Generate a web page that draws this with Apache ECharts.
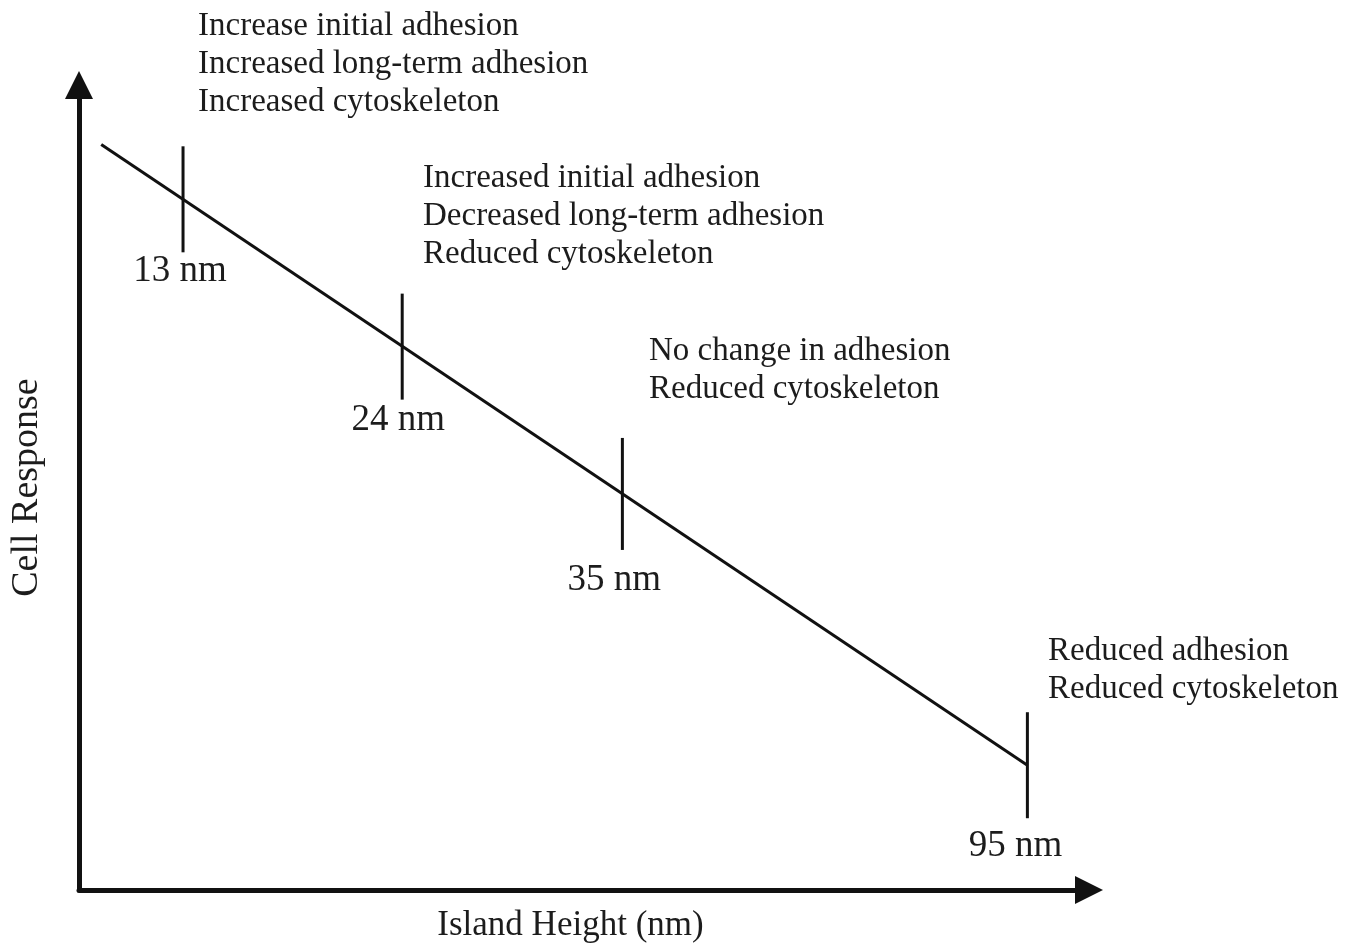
<!DOCTYPE html>
<html>
<head>
<meta charset="utf-8">
<script src="https://cdn.jsdelivr.net/npm/echarts@6/dist/echarts.min.js"></script>
<style>
html,body{margin:0;padding:0;background:#fff;}
#chart{width:1360px;height:948px;}
</style>
</head>
<body>
<div id="chart"></div>
<script>
// Schematic coordinates (0-100 on both axes)
var linePoints = [[2.2, 92.6], [93.9, 15.5]];
var tickX = [10.3, 32.0, 53.8, 93.9];
var tickY = [85.8, 67.5, 49.2, 15.5];
var tickLabels = ['13 nm', '24 nm', '35 nm', '95 nm'];
var annotations = [
  ['Increase initial adhesion', 'Increased long-term adhesion', 'Increased cytoskeleton'],
  ['Increased initial adhesion', 'Decreased long-term adhesion', 'Reduced cytoskeleton'],
  ['No change in adhesion', 'Reduced cytoskeleton'],
  ['Reduced adhesion', 'Reduced cytoskeleton']
];
var xTitle = 'Island Height (nm)';
var yTitle = 'Cell Response';

// styling / placement (not data)
var FONT = '"Liberation Serif", "Times New Roman", serif';
var INK = '#111';
var TXT = '#1c1c1c';
var annPos = [[198, 7], [423, 159], [649, 332], [1048, 632]];
var labelNudge = [[-3, -1], [-4, 1], [-8, 11], [-12, 9]];
var tickLen = [106, 106, 112, 106];

var chart = echarts.init(document.getElementById('chart'));
var tickData = tickX.map(function (x, i) {
  return {
    value: [x, tickY[i]],
    symbolSize: [3, tickLen[i]],
    label: { offset: labelNudge[i] }
  };
});

var option = {
  backgroundColor: '#fff',
  animation: false,
  grid: { left: 78, top: 85, right: 271, bottom: 56 },
  xAxis: {
    type: 'value', min: 0, max: 100,
    name: xTitle, nameLocation: 'middle', nameGap: 18,
    nameTextStyle: { fontFamily: FONT, fontSize: 35, color: TXT, padding: [0, 27, 0, 0] },
    axisLine: { show: true, onZero: false, symbol: ['none', 'triangle'], symbolSize: [28, 28], lineStyle: { color: INK, width: 5 } },
    axisTick: { show: false }, axisLabel: { show: false }, splitLine: { show: false }
  },
  yAxis: {
    type: 'value', min: 0, max: 100,
    name: yTitle, nameLocation: 'middle', nameGap: 33,
    nameTextStyle: { fontFamily: FONT, fontSize: 38, color: TXT },
    axisLine: { show: true, onZero: false, symbol: ['none', 'triangle'], symbolSize: [28, 28], lineStyle: { color: INK, width: 5 } },
    axisTick: { show: false }, axisLabel: { show: false }, splitLine: { show: false }
  },
  series: [
    {
      type: 'line', data: linePoints, symbol: 'none',
      lineStyle: { color: INK, width: 3 }, silent: true
    },
    {
      type: 'scatter', data: tickData, symbol: 'rect',
      itemStyle: { color: INK, opacity: 1 }, silent: true,
      label: {
        show: true, position: 'bottom', distance: 1,
        fontFamily: FONT, fontSize: 37, color: TXT,
        formatter: function (p) { return tickLabels[p.dataIndex]; }
      }
    }
  ],
  graphic: annotations.map(function (lines, i) {
    return {
      type: 'text', left: annPos[i][0], top: annPos[i][1],
      style: { text: lines.join('\n'), font: '33px ' + FONT, fill: TXT, lineHeight: 38 }
    };
  })
};
chart.setOption(option);
</script>
</body>
</html>
